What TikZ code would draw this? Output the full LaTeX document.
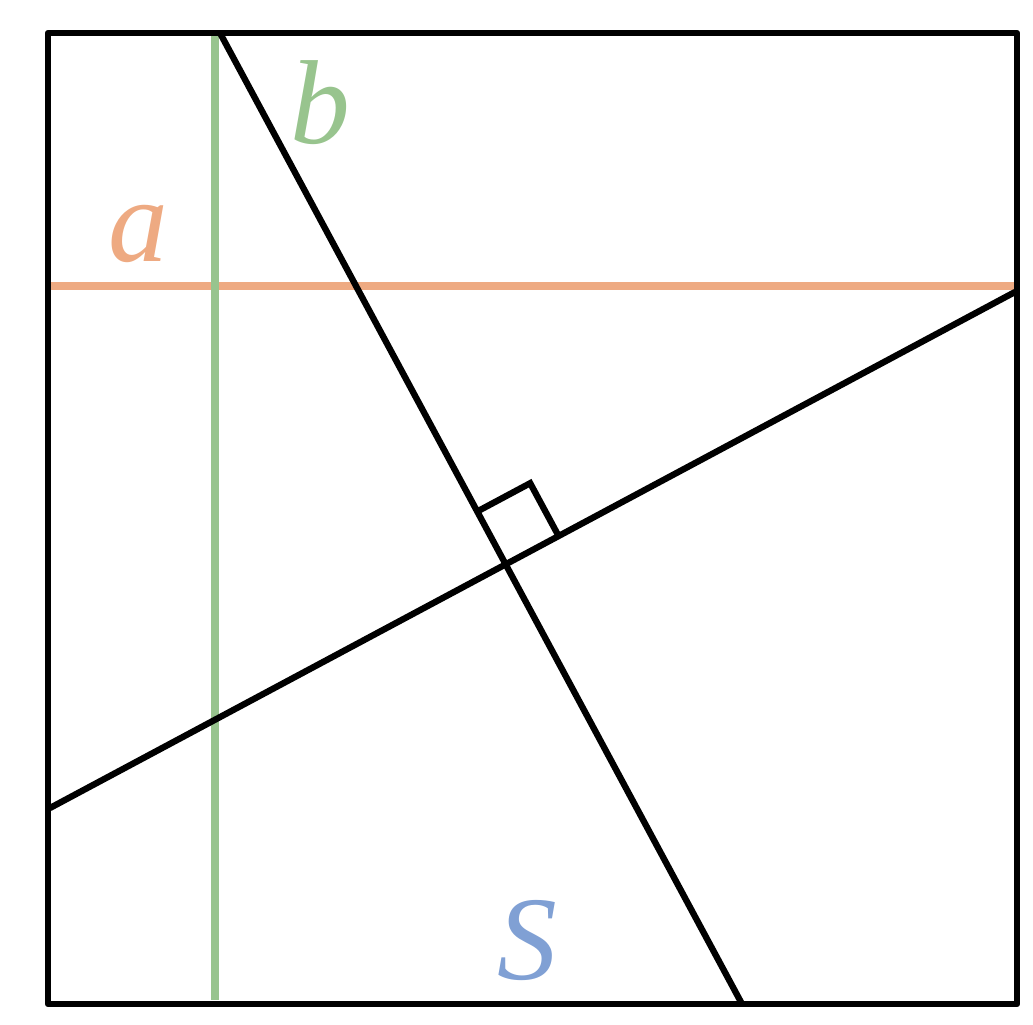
\documentclass[tikz,border=0pt]{standalone}
\usepackage{fontspec}
\usepackage{xcolor}
\usepackage{tikz}
\usetikzlibrary{calc}
\setmainfont{Liberation Serif}
\definecolor{lineA}{RGB}{238,170,130}
\definecolor{lineB}{RGB}{152,196,142}
\definecolor{areaS}{RGB}{128,160,212}
\tikzset{side/.style={black,line width=1.8pt},
         lbl/.style={anchor=base,inner sep=0pt,font=\fontsize{34}{40}\selectfont\itshape}}
\begin{document}
\begin{tikzpicture}
\useasboundingbox (0,0) rectangle (10.33,10.24);

\coordinate (q1) at (0.48,0.20);
\coordinate (q2) at (10.17,0.20);
\coordinate (q3) at (10.17,9.91);
\coordinate (q4) at (0.48,9.91);

\coordinate (a1) at (0.50,7.38);
\coordinate (a2) at (10.15,7.38);
\coordinate (b1) at (2.15,9.91);
\coordinate (b2) at (2.15,0.24);

\coordinate (p1) at (2.20,9.91);
\coordinate (p2) at (7.42,0.20);
\coordinate (r1) at (0.50,2.16);
\coordinate (r2) at (10.15,7.32);

\coordinate (X) at (intersection of p1--p2 and r1--r2);
\coordinate (m1) at ($(X)!0.6cm!(p1)$);
\coordinate (m2) at ($(X)!0.6cm!(r2)$);

\draw[lineA,line width=2.3pt] (a1)--(a2);
\draw[lineB,line width=2.3pt] (b1)--(b2);

\draw[side] (p1)--(p2);
\draw[side] (r1)--(r2);
\draw[side] (m1)--($(m1)+(m2)-(X)$)--(m2);

\draw[side,line join=round] (q1)--(q2)--(q3)--(q4)--cycle;

\node (a) [lbl,lineA] at (1.38,7.62) {a};
\node (b) [lbl,lineB] at (3.20,8.80) {b};
\node (S) [lbl,areaS] at (5.27,0.45) {S};

\end{tikzpicture}
\end{document}
